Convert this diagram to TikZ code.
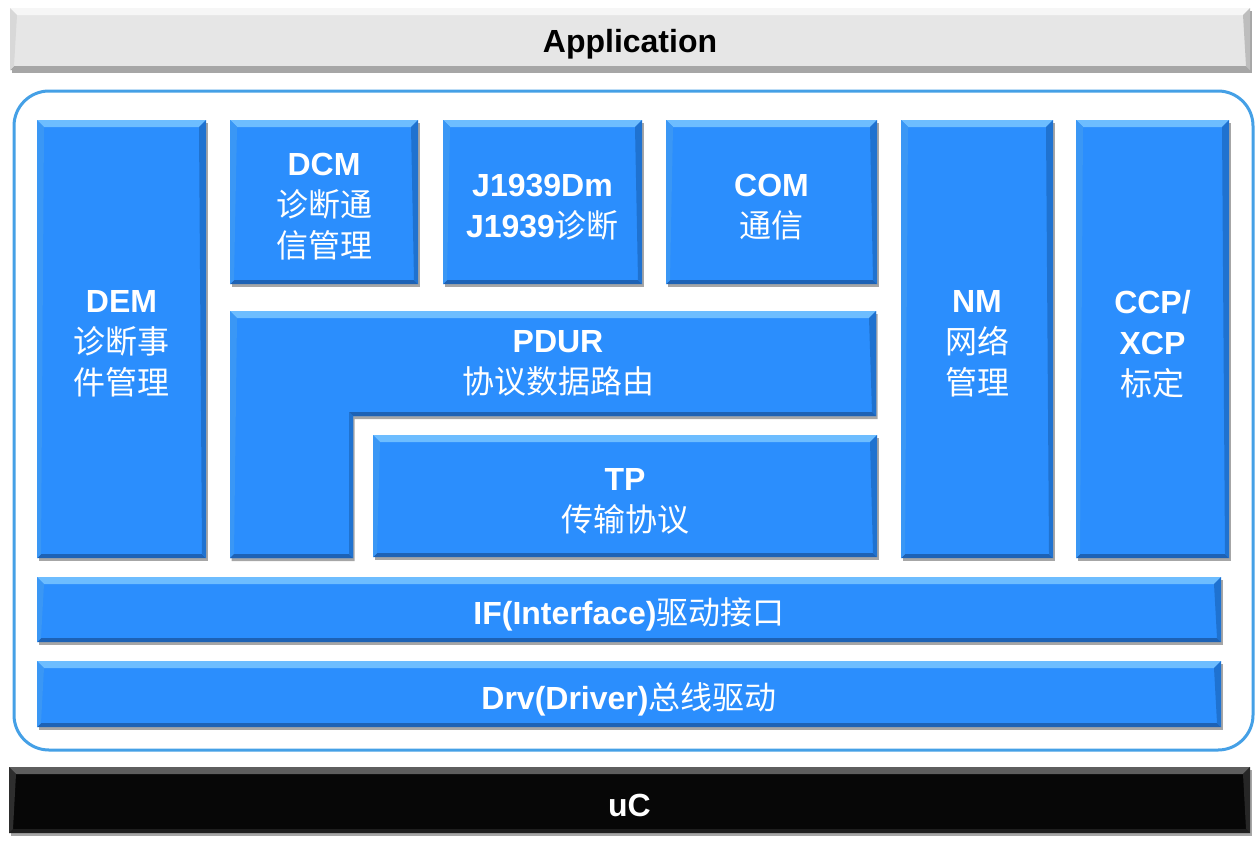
\documentclass[tikz,border=0pt]{standalone}
\usepackage{fontspec}
\setmainfont{Liberation Sans}
\newfontfamily\cjk{Noto Sans CJK SC}
\newcommand\zhtxt[1]{{\cjk\mdseries #1}}
\usetikzlibrary{shadows}
\definecolor{blueF}{HTML}{2B8EFD}
\definecolor{blueT}{HTML}{6DBDFF}
\definecolor{blueB}{HTML}{1D62B5}
\definecolor{blueL}{HTML}{3A97F5}
\definecolor{blueR}{HTML}{1F72D0}
\definecolor{grayF}{HTML}{E6E6E6}
\definecolor{grayT}{HTML}{F6F6F6}
\definecolor{grayB}{HTML}{A6A6A6}
\definecolor{grayL}{HTML}{D8D8D8}
\definecolor{grayR}{HTML}{BDBDBD}
\definecolor{darkF}{HTML}{070707}
\definecolor{darkT}{HTML}{5E5E5E}
\definecolor{darkB}{HTML}{1E1E1E}
\definecolor{darkL}{HTML}{2E2E2E}
\definecolor{darkR}{HTML}{262626}
\definecolor{frameC}{HTML}{45A0E6}
\tikzset{
  bevel/.style={path picture={
    \fill[#1T] (path picture bounding box.north west) -- (path picture bounding box.north east)
      -- ([xshift=-7pt,yshift=-7pt]path picture bounding box.north east)
      -- ([xshift=7pt,yshift=-7pt]path picture bounding box.north west) -- cycle;
    \fill[#1B] (path picture bounding box.south west) -- (path picture bounding box.south east)
      -- ([xshift=-4pt,yshift=4pt]path picture bounding box.south east)
      -- ([xshift=4pt,yshift=4pt]path picture bounding box.south west) -- cycle;
    \fill[#1L] (path picture bounding box.north west) -- ([xshift=7pt,yshift=-7pt]path picture bounding box.north west)
      -- ([xshift=4pt,yshift=4pt]path picture bounding box.south west) -- (path picture bounding box.south west) -- cycle;
    \fill[#1R] (path picture bounding box.north east) -- ([xshift=-7pt,yshift=-7pt]path picture bounding box.north east)
      -- ([xshift=-4pt,yshift=4pt]path picture bounding box.south east) -- (path picture bounding box.south east) -- cycle;
  }},
  plain/.style={text=white, align=center, font=\fontsize{32}{41}\selectfont\bfseries, inner sep=0pt},
  blockbox/.style={rectangle, inner sep=0pt, fill=blueF, bevel=blue,
    drop shadow={shadow xshift=1.5pt, shadow yshift=-3pt, opacity=.35, fill=black}},
  graybox/.style={blockbox, fill=grayF, bevel=gray},
  darkbox/.style={blockbox, fill=darkF, bevel=dark},
  txt/.style={label={[plain, yshift=-5pt]center:#1}},
  txtk/.style={label={[plain, text=black, yshift=-5pt]center:#1}},
}
\begin{document}
\begin{tikzpicture}[x=1pt,y=-1pt]
\useasboundingbox (0,0) rectangle (1260,846);
\fill[white] (0,0) rectangle (1260,846);

% Application
\node[graybox, minimum width=1240pt, minimum height=62pt, txtk={Application}] (app) at (630,39) {};

% outer frame
\draw[frameC, line width=3pt, rounded corners=35pt] (14,91) rectangle (1253,750);

% upper blocks
\node[blockbox, minimum width=169pt, minimum height=438pt,
  txt={DEM\\\zhtxt{诊断事}\\\zhtxt{件管理}}] (dem) at (121.5,339) {};
\node[blockbox, minimum width=188pt, minimum height=164pt,
  txt={DCM\\\zhtxt{诊断通}\\\zhtxt{信管理}}] (dcm) at (324,202) {};
\node[blockbox, minimum width=199pt, minimum height=164pt,
  txt={J1939Dm\\J1939\zhtxt{诊断}}] (j1939) at (542.5,202) {};
\node[blockbox, minimum width=211pt, minimum height=164pt,
  txt={COM\\\zhtxt{通信}}] (com) at (771.5,202) {};
\node[blockbox, minimum width=152pt, minimum height=438pt,
  txt={NM\\\zhtxt{网络}\\\zhtxt{管理}}] (nm) at (977,339) {};
\node[blockbox, minimum width=153pt, minimum height=438pt,
  txt={CCP/\\XCP\\\zhtxt{标定}}] (ccp) at (1152.5,339) {};

% PDUR L-shape
\fill[black, opacity=.35] (231.5,314) -- (877.5,314) -- (877.5,419) -- (354.5,419) -- (354.5,561) -- (231.5,561) -- cycle;
\fill[blueF] (230,311) -- (876,311) -- (876,416) -- (353,416) -- (353,558) -- (230,558) -- cycle;
\fill[blueT] (230,311) -- (876,311) -- (869,318) -- (237,318) -- cycle;
\fill[blueL] (230,311) -- (237,318) -- (234,554) -- (230,558) -- cycle;
\fill[blueR] (876,311) -- (869,318) -- (872,412) -- (876,416) -- cycle;
\fill[blueB] (876,416) -- (872,412) -- (349,412) -- (353,416) -- cycle;
\fill[blueR] (353,416) -- (349,412) -- (349,554) -- (353,558) -- cycle;
\fill[blueB] (230,558) -- (234,554) -- (349,554) -- (353,558) -- cycle;
\node[plain] (pdur) at (558,363) {PDUR\\\zhtxt{协议数据路由}};

\node[blockbox, minimum width=504pt, minimum height=122pt,
  txt={TP\\\zhtxt{传输协议}}] (tp) at (625,496) {};

% lower bars
\node[blockbox, minimum width=1184pt, minimum height=65pt,
  txt={IF(Interface)\zhtxt{驱动接口}}] (if) at (629,609.5) {};
\node[blockbox, minimum width=1184pt, minimum height=66pt,
  txt={Drv(Driver)\zhtxt{总线驱动}}] (drv) at (629,694) {};

% uC
\node[darkbox, minimum width=1241pt, minimum height=66pt, txt={uC}] (uc) at (629.5,800) {};
\end{tikzpicture}
\end{document}
